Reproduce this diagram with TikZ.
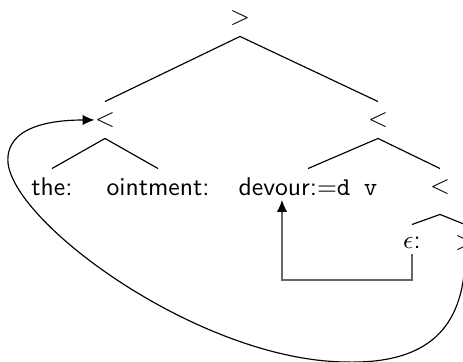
\documentclass[tikz,border=0pt]{standalone}
\usepackage{tikz}
\usetikzlibrary{arrows.meta, calc}

\begin{document}
\begin{tikzpicture}[x=0.39pt, y=-0.39pt, font=\sffamily,
    tnode/.style={inner sep=0pt, minimum height=14pt},
    branch/.style={line width=0.45pt},
    link/.style={line width=0.45pt, -{Latex[length=4.6pt, width=4pt]}}]
  \useasboundingbox (0,0) rectangle (463,362);

  \node[tnode] (root) at (240,18) {>};
  \node[tnode] (lt) at (105,120) {<};
  \node[tnode] (rt) at (378,120) {<};
  \node[tnode] (the) at (52,187) {the:};
  \node[tnode] (oint) at (158,187) {ointment:};
  \node[tnode] (dev) at (308,187) {devour:=\texttt{d v}};
  \node[tnode] (rr) at (440,187) {<};
  \node[tnode] (eps) at (412,243) {$\epsilon$:};
  \node[tnode] (gt) at (465,243) {>};
  \coordinate (devin) at (282,200);

  \draw[branch] (root.south) -- (lt.north);
  \draw[branch] (root.south) -- (rt.north);
  \draw[branch] (lt.south) -- (the.north);
  \draw[branch] (lt.south) -- (oint.north);
  \draw[branch] (rt.south) -- (dev.north);
  \draw[branch] (rt.south) -- (rr.north);
  \draw[branch] ([yshift=-3.5pt]rr.south) -- (eps.north);
  \draw[branch] ([yshift=-3.5pt]rr.south) -- (gt.north);

  % back links
  \draw[link, black!60, -{Latex[length=4.6pt, width=4pt, black]}, shorten <=-3pt]
    (eps.south) -- (eps.south |- 0,280) -| (devin);
  \draw[link] (gt.south) .. controls (462,335) and (420,364) .. (345,362)
    .. controls (200,360) and (15,225) .. (8,163)
    .. controls (5,125) and (55,120) .. (lt.west);
\end{tikzpicture}
\end{document}
